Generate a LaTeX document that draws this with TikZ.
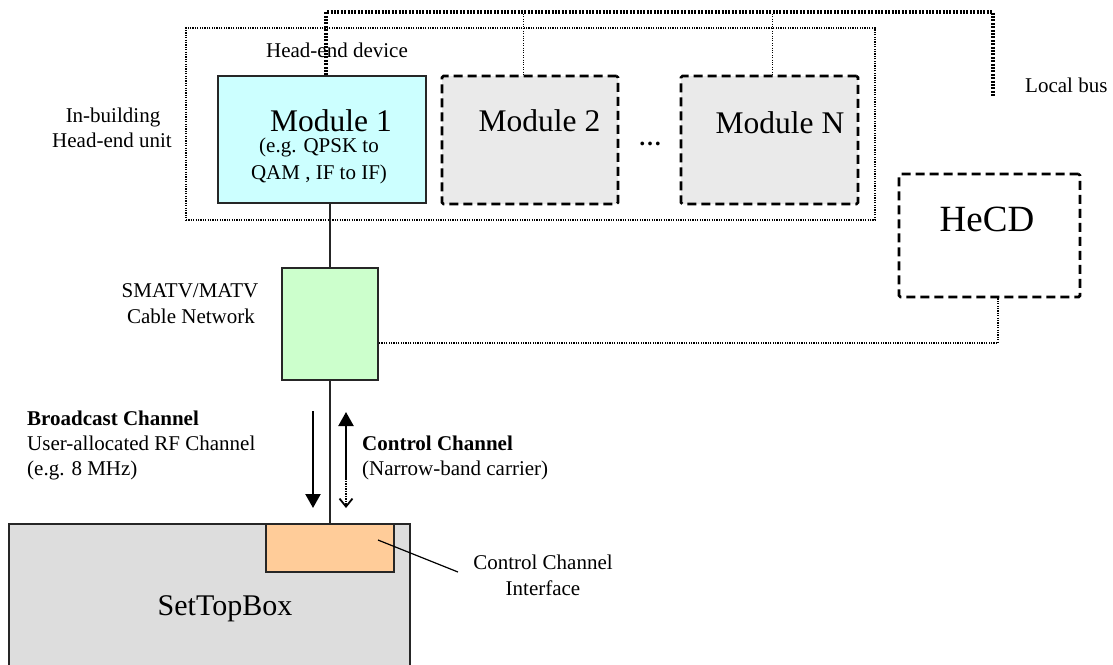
\documentclass[tikz,border=0pt]{standalone}
\usepackage{fontspec}
\setmainfont{Liberation Serif}
\usetikzlibrary{arrows.meta}
\definecolor{modcyan}{HTML}{CCFFFF}
\definecolor{modgray}{HTML}{EAEAEA}
\definecolor{netgreen}{HTML}{CCFFCC}
\definecolor{stbgray}{HTML}{DDDDDD}
\definecolor{cciorange}{HTML}{FFCC99}
\tikzset{
  solidbox/.style={draw=black!85, line width=1.2pt, inner sep=0pt},
  dashbox/.style={draw=black, line width=2.8pt, dash pattern=on 9pt off 5pt, rounded corners=1.5pt, inner sep=0pt},
  dotbox/.style={draw=black, line width=1.6pt, dash pattern=on 1.2pt off 1.2pt, inner sep=0pt},
  busline/.style={draw=black, line width=3.5pt, dash pattern=on 2pt off 1.4pt},
  thindot/.style={draw=black, line width=0.8pt, dash pattern=on 1pt off 1.4pt},
  dotline/.style={draw=black, line width=1.6pt, dash pattern=on 1.2pt off 1.2pt},
  small/.style={font=\fontsize{21}{25}\selectfont, inner sep=0pt},
  smallbold/.style={font=\fontsize{21}{25}\selectfont\bfseries, inner sep=0pt},
  modtext/.style={font=\fontsize{31.5}{36}\selectfont, inner sep=0pt},
  bigtip/.style={-{Triangle[width=15pt,length=14pt]}},
}
\begin{document}
\begin{tikzpicture}[x=1pt,y=-1pt]
\useasboundingbox (0,0) rectangle (1113,664);
\clip (0,0) rectangle (1113,664);

% outer head-end unit box
\node[dotbox, minimum width=689pt, minimum height=192pt] (hebox) at (530.5,124) {};

% modules
\node[solidbox, fill=modcyan, minimum width=208pt, minimum height=127pt] (m1) at (322,139.5) {};
\node[dashbox, fill=modgray, minimum width=176pt, minimum height=128pt] (m2) at (530,140) {};
\node[dashbox, fill=modgray, minimum width=177pt, minimum height=128pt] (mn) at (769.5,140) {};
\node[dashbox, minimum width=181pt, minimum height=123pt] (hecd) at (989.5,235.5) {};

% network and set top box
\node[solidbox, fill=netgreen, minimum width=96pt, minimum height=112pt] (smatv) at (330,324) {};
\node[solidbox, fill=stbgray, minimum width=401pt, minimum height=146pt] (stb) at (209.5,597) {};
\node[solidbox, fill=cciorange, minimum width=128pt, minimum height=48pt] (cci) at (330,548) {};

% texts
\node[small, anchor=base] (hedev) at (337,57) {Head-end device};
\node[small, anchor=base] (inb1) at (113,122) {In-building};
\node[small, anchor=base] (inb2) at (112,147) {Head-end unit};
\node[small, anchor=base west] (lbus) at (1025,92) {Local bus};
\node[modtext, anchor=base] (m1t) at (331,131) {Module 1};
\node[small, anchor=base] (m1e1) at (319,152) {(e.g. QPSK to};
\node[small, anchor=base] (m1e2) at (319,179) {QAM , IF to IF)};
\node[modtext, anchor=base] (m2t) at (539.5,131) {Module 2};
\node[modtext, anchor=base] (mnt) at (780,133) {Module N};
\node[font=\fontsize{23}{25}\selectfont\bfseries, inner sep=0pt, anchor=base] (dots) at (650,145) {…};
\node[font=\fontsize{37}{42}\selectfont, inner sep=0pt, anchor=base] (hecdt) at (987,231) {HeCD};
\node[small, anchor=base] (sm1) at (190,297) {SMATV/MATV};
\node[small, anchor=base] (sm2) at (191,323) {Cable Network};
\node[smallbold, anchor=base west] (bc1) at (27,425) {Broadcast Channel};
\node[small, anchor=base west] (bc2) at (27,450) {User-allocated RF Channel};
\node[small, anchor=base west] (bc3) at (27,475) {(e.g. 8 MHz)};
\node[smallbold, anchor=base west] (cc1) at (362,450) {Control Channel};
\node[small, anchor=base west] (cc2) at (362,475) {(Narrow-band carrier)};
\node[small, anchor=base] (cci1) at (543,569) {Control Channel};
\node[small, anchor=base] (cci2) at (543,595) {Interface};
\node[font=\fontsize{30}{34}\selectfont, inner sep=0pt, anchor=base] (stbt) at (225,615) {SetTopBox};

% connectors
\draw[line width=1.2pt, black!85] (smatv.north |- m1.south) -- (smatv.north);
\draw[line width=1.2pt, black!85] (smatv.south) -- (cci.north);

\coordinate (busA) at (326,12);
\coordinate (busEnd) at (993,97);
\draw[busline] (busA |- m1.north) -- (busA) -- (busA -| busEnd) -- (busEnd);

\coordinate (m2tap) at (523,14);
\coordinate (mntap) at (772,14);
\draw[thindot] (m2tap) -- (m2tap |- m2.north);
\draw[thindot] (mntap) -- (mntap |- mn.north);

\coordinate (hecdTap) at (998,343);
\draw[dotline] (hecdTap |- hecd.south) -- (hecdTap) -- (smatv.east |- hecdTap);

% leader line for control channel interface
\coordinate (ccia) at (378,540);
\coordinate (ccib) at (458,572);
\draw[line width=1.2pt] (ccia) -- (ccib);

% channel arrows
\coordinate (bcTop) at (313,411);
\coordinate (bcTip) at (313,508);
\draw[line width=2.2pt, bigtip] (bcTop) -- (bcTip);
\coordinate (ccMid) at (346,478);
\coordinate (ccTop) at (346,412);
\coordinate (ccBot) at (346,508);
\draw[line width=2.2pt, bigtip] (ccMid) -- (ccTop);
\draw[line width=1.8pt, dash pattern=on 1.5pt off 1pt, -{Straight Barb[width=13pt,length=8pt]}] (ccMid) -- (ccBot);
\end{tikzpicture}
\end{document}
